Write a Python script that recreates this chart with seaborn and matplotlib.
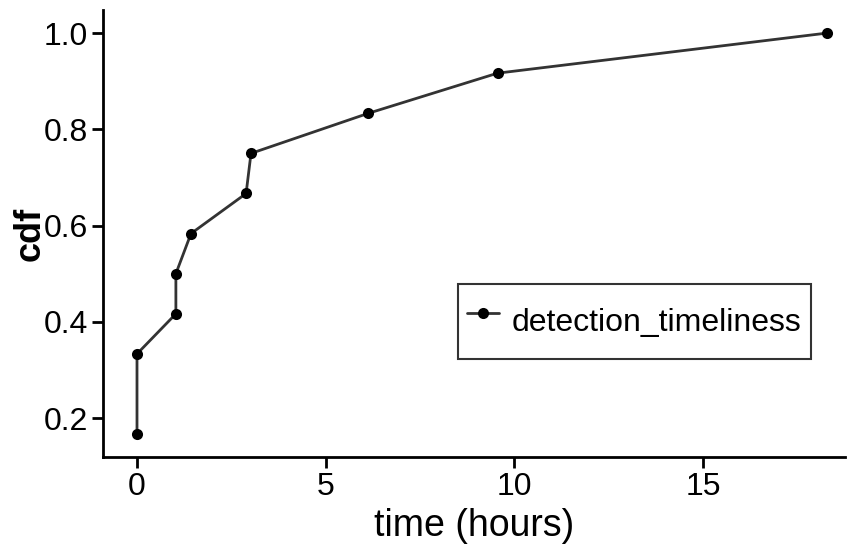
import matplotlib
matplotlib.use("Agg")
import matplotlib.pyplot as plt
import seaborn as sns
import pandas as pd

time_hours = [0.0, 0.0, 1.03, 1.03, 1.43, 2.89, 3.02, 6.13, 9.55, 18.28]
cdf = [2/12, 4/12, 5/12, 6/12, 7/12, 8/12, 9/12, 10/12, 11/12, 12/12]
series = ["detection_timeliness"] * len(time_hours)
x_ticks = [0, 5, 10, 15]
y_ticks = [0.2, 0.4, 0.6, 0.8, 1.0]

sns.set_style("white")
fam = ["Liberation Sans Narrow", "Liberation Sans", "DejaVu Sans"]
plt.rcParams["font.family"] = fam
plt.rcParams["text.color"] = "black"
plt.rcParams["axes.labelcolor"] = "black"

df = pd.DataFrame({"time": time_hours, "cdf": cdf, "series": series})

fig = plt.figure(figsize=(8.55, 5.54), dpi=100)
ax = fig.add_axes([0.1205, 0.175, 0.868, 0.807])
sns.lineplot(data=df, x="time", y="cdf", hue="series", palette=["#333333"],
             marker="o", markersize=8, markeredgewidth=0, linewidth=2,
             sort=False, estimator=None, ax=ax)
for ln in ax.lines:
    ln.set_markerfacecolor("black")

ax.set_xlim(-0.9, 18.76)
ax.set_ylim(0.119, 1.048)
ax.set_xticks(x_ticks)
ax.set_xticklabels([str(v) for v in x_ticks])
ax.set_yticks(y_ticks)
ax.set_yticklabels([f"{v:.1f}" for v in y_ticks])
for s in ["top", "right"]:
    ax.spines[s].set_visible(False)
for s in ["left", "bottom"]:
    ax.spines[s].set_color("black")
    ax.spines[s].set_linewidth(2)
ax.tick_params(axis="both", which="both", direction="out", length=8, width=2,
               colors="black", labelsize=23, left=True, bottom=True, pad=3)
ax.set_xlabel("time (hours)", fontsize=27, labelpad=4)
ax.set_ylabel("cdf", fontsize=26, fontweight="bold", labelpad=-3)

leg = ax.legend(loc="center left", bbox_to_anchor=(0.478, 0.303), fontsize=23,
                frameon=True, fancybox=False, handlelength=1.0, handletextpad=0.4,
                handleheight=2.3, borderpad=0.3, borderaxespad=0.0,
                edgecolor="black")
leg.get_frame().set_linewidth(1.5)
leg.set_title(None)
for t in leg.get_texts():
    t.set_color("black")

fig.savefig("out.png", dpi=100)
